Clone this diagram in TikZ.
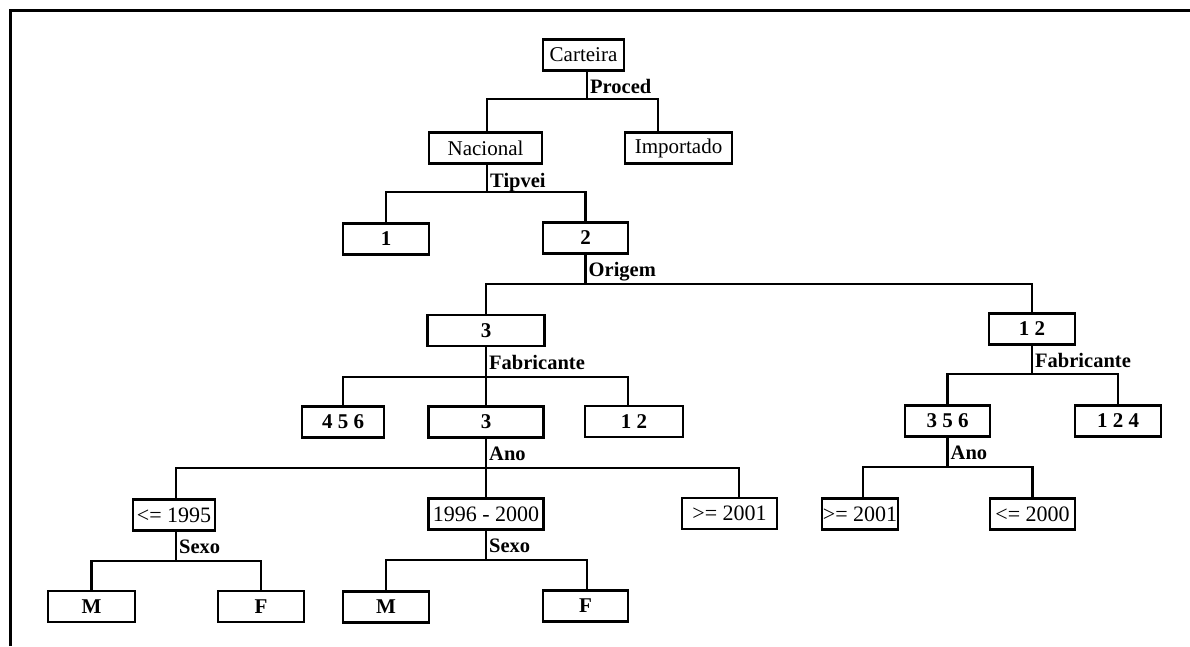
\documentclass[tikz,border=0pt]{standalone}
\usepackage{fontspec}
\setmainfont{Liberation Serif}
\begin{document}
\begin{tikzpicture}[x=1pt,y=-1pt,
  tbox/.style={draw, line width=2.9pt, inner sep=0pt, minimum height=31pt,
    font=\fontsize{21}{21}\selectfont},
  tnum/.style={tbox, font=\fontsize{21}{21}\selectfont\bfseries},
  tyear/.style={tbox, font=\fontsize{22}{22}\selectfont},
  lbl/.style={inner sep=0pt, anchor=base west, font=\fontsize{20.5}{20.5}\selectfont\bfseries},
  link/.style={line width=2.6pt},
  frame/.style={line width=3pt}]
\useasboundingbox (0,0) rectangle (1190,646);

% outer frame (top and left edges only)
\coordinate (fb) at (10,646);
\coordinate (fc) at (10,10);
\coordinate (fr) at (1190,10);
\draw[frame] (fb) -- (fc) -- (fr);

% tree nodes
\node[tbox, minimum width=81pt]  (cart) at (583.5,55) {Carteira};
\node[tbox, minimum width=113pt] (nac)  at (485.5,148) {Nacional};
\node[tbox, minimum width=107pt] (imp)  at (678.5,148) {Importado};
\node[tnum, minimum width=86pt]  (n1)   at (386,239) {1};
\node[tnum, minimum width=85pt]  (n2)   at (585.5,238) {2};
\node[tnum, minimum width=117pt] (o3)   at (486,330.5) {3};
\node[tnum, minimum width=86pt]  (o12)  at (1032,329) {1 2};
\node[tnum, minimum width=82pt]  (f456) at (343,422) {4 5 6};
\node[tnum, minimum width=115pt] (f3)   at (486,422) {3};
\node[tnum, minimum width=98pt]  (f12)  at (634,421.5) {1 2};
\node[tnum, minimum width=85pt]  (f356) at (947.5,421) {3 5 6};
\node[tnum, minimum width=86pt]  (f124) at (1118,421) {1 2 4};
\node[tyear, minimum width=82pt]  (a95)   at (174,515) {<= 1995};
\node[tyear, minimum width=115pt] (a9600) at (486,514) {1996 - 2000};
\node[tyear, minimum width=95pt]  (a01)   at (729.5,513.5) {>= 2001};
\node[tyear, minimum width=76pt]  (r01)   at (860,514) {>= 2001};
\node[tyear, minimum width=85pt]  (r00)   at (1032.5,514) {<= 2000};
\node[tnum, minimum width=87pt]  (m1)  at (91.5,606.5) {M};
\node[tnum, minimum width=86pt]  (fe1) at (261,606.5) {F};
\node[tnum, minimum width=86pt]  (m2)  at (386,607) {M};
\node[tnum, minimum width=85pt]  (fe2) at (585.5,606) {F};

% split points
\coordinate (bP)  at ([xshift=3.5pt]cart.south |- 0,99);
\coordinate (bT)  at ([xshift=1.5pt]nac.south |- 0,192);
\coordinate (bO)  at (n2.south |- 0,284);
\coordinate (bF)  at (o3.south |- 0,377);
\coordinate (bFr) at (o12.south |- 0,374);
\coordinate (bA)  at (f3.south |- 0,468);
\coordinate (bAr) at (f356.south |- 0,467);
\coordinate (bS)  at ([xshift=2pt]a95.south |- 0,561);
\coordinate (bS2) at (a9600.south |- 0,560);

% connectors
\draw[link] ([xshift=3.5pt]cart.south) -- (bP);
\draw[link] (bP) -| ([xshift=1.5pt]nac.north);
\draw[link] (bP) -| ([xshift=-20.5pt]imp.north);

\draw[link] ([xshift=1.5pt]nac.south) -- (bT);
\draw[link] (bT) -| (n1.north);
\draw[link] (bT) -| (n2.north);

\draw[link] (n2.south) -- (bO);
\draw[link] (bO) -| (o3.north);
\draw[link] (bO) -| (o12.north);

\draw[link] (o3.south) -- (bF);
\draw[link] (bF) -| (f456.north);
\draw[link] (bF) -- (f3.north);
\draw[link] (bF) -| ([xshift=-6pt]f12.north);

\draw[link] (o12.south) -- (bFr);
\draw[link] (bFr) -| (f356.north);
\draw[link] (bFr) -| (f124.north);

\draw[link] (f3.south) -- (bA);
\draw[link] (bA) -| ([xshift=2pt]a95.north);
\draw[link] (bA) -- (a9600.north);
\draw[link] (bA) -| ([xshift=9.5pt]a01.north);

\draw[link] (f356.south) -- (bAr);
\draw[link] (bAr) -| ([xshift=3pt]r01.north);
\draw[link] (bAr) -| (r00.north);

\draw[link] ([xshift=2pt]a95.south) -- (bS);
\draw[link] (bS) -| (m1.north);
\draw[link] (bS) -| (fe1.north);

\draw[link] (a9600.south) -- (bS2);
\draw[link] (bS2) -| (m2.north);
\draw[link] (bS2) -| ([xshift=1.5pt]fe2.north);

% split labels
\node[lbl] (lP)  at ([xshift=3pt,yshift=6pt]bP)  {Proced};
\node[lbl] (lT)  at ([xshift=3pt,yshift=5pt]bT)  {Tipvei};
\node[lbl] (lO)  at ([xshift=3pt,yshift=8pt]bO)  {Origem};
\node[lbl] (lF)  at ([xshift=3pt,yshift=8pt]bF)  {Fabricante};
\node[lbl] (lFr) at ([xshift=3pt,yshift=7pt]bFr) {Fabricante};
\node[lbl] (lA)  at ([xshift=3pt,yshift=8pt]bA)  {Ano};
\node[lbl] (lAr) at ([xshift=3pt,yshift=8pt]bAr) {Ano};
\node[lbl] (lS)  at ([xshift=3pt,yshift=8pt]bS)  {Sexo};
\node[lbl] (lS2) at ([xshift=3pt,yshift=8pt]bS2) {Sexo};
\end{tikzpicture}
\end{document}
